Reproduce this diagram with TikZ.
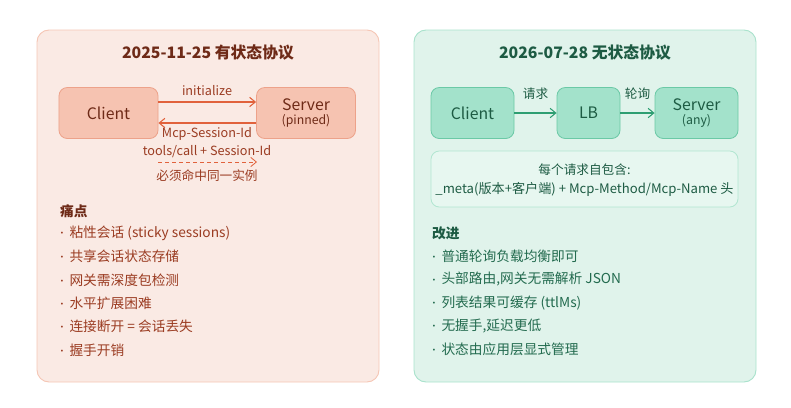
\documentclass[tikz,border=0pt]{standalone}
\usepackage{fontspec}
\setmainfont{Noto Sans CJK SC}
\newfontfamily\dotfont{DejaVu Sans}
\usepackage{xcolor}
\usepackage{tikz}
\usetikzlibrary{arrows.meta,positioning,calc}
\definecolor{oldbg}{HTML}{FAEAE4}
\definecolor{oldframe}{HTML}{F5C6B5}
\definecolor{oldbox}{HTML}{F6C3B1}
\definecolor{oldboxline}{HTML}{EDA28A}
\definecolor{oldarrow}{HTML}{E1623C}
\definecolor{oldtitle}{HTML}{6E2A17}
\definecolor{oldtext}{HTML}{9B3C22}
\definecolor{newbg}{HTML}{E0F3EB}
\definecolor{newframe}{HTML}{A9E2CC}
\definecolor{newbox}{HTML}{A3E2CB}
\definecolor{newboxline}{HTML}{6BC9A6}
\definecolor{newarrow}{HTML}{2E9E72}
\definecolor{newtitle}{HTML}{1D5B43}
\definecolor{newtext}{HTML}{236B4F}
\definecolor{infobg}{HTML}{E7F7F0}
\definecolor{infoline}{HTML}{B2E6D1}
\tikzset{
  panel/.style={rounded corners=0.36cm,line width=0.8pt},
  oldnode/.style={rectangle,rounded corners=0.25cm,draw=oldboxline,fill=oldbox,line width=0.7pt,
    minimum width=2.97cm,minimum height=1.53cm,align=center,text=oldtitle,font=\fontsize{13.5}{15}\selectfont},
  newnode/.style={rectangle,rounded corners=0.25cm,draw=newboxline,fill=newbox,line width=0.7pt,
    minimum height=1.53cm,align=center,text=newtitle,font=\fontsize{13.5}{15}\selectfont},
  oldarc/.style={->,oldarrow,line width=0.9pt},
  newarc/.style={->,newarrow,line width=0.9pt},
  arclab/.style={font=\fontsize{10.8}{12}\selectfont,inner sep=0pt},
  ptitle/.style={font=\bfseries\fontsize{13.5}{15}\selectfont},
  listhead/.style={font=\bfseries\fontsize{11.7}{13}\selectfont,anchor=west,inner sep=0pt},
  listitem/.style={font=\fontsize{11.7}{13}\selectfont,anchor=west,inner sep=0pt}
}
\newcommand{\subtxt}[1]{\\[-3.5pt]{\fontsize{10.5}{12}\selectfont #1}}
\newcommand{\itemdot}{\raisebox{0.25ex}{\dotfont\fontsize{5.5}{6}\selectfont •}\hspace{0.4em}}
\begin{document}
\begin{tikzpicture}[x=0.03cm,y=-0.03cm,>={Straight Barb[length=1.7mm,width=2.8mm]}]
  \useasboundingbox (0,0) rectangle (791,407);
  \draw[panel,draw=oldframe,fill=oldbg] (37,30) rectangle (379,382);
  \draw[panel,draw=newframe,fill=newbg] (414,30) rectangle (756,382);
  % stateful side
  \node[ptitle,text=oldtitle] (oldhead) at (208,52) {2025-11-25 有状态协议};
  \node[oldnode] (cliL) at (108.5,113) {Client};
  \node[oldnode] (srvL) at (306,113) {Server\subtxt{(pinned)}};
  \draw[oldarc] ([yshift=0.33cm]cliL.east) -- ([yshift=0.33cm]srvL.west);
  \draw[oldarc] ([yshift=-0.30cm]srvL.west) -- ([yshift=-0.30cm]cliL.east);
  \node[arclab,text=oldtext] (initlab) at (207,91) {initialize};
  \node[arclab,text=oldtext] (sesslab) at (207,134) {Mcp-Session-Id};
  \node[arclab,text=oldtext] (calllab) at (207,152) {tools/call + Session-Id};
  \coordinate (dashS) at (158,162);
  \coordinate (dashE) at (257,162);
  \draw[oldarc,dashed,line width=0.7pt] (dashS) -- (dashE);
  \node[arclab,text=oldtext] (samelab) at (207,176) {必须命中同一实例};
  \node[listhead,text=oldtitle] (painhead) at (60,211) {痛点};
  \foreach \txt [count=\i] in {粘性会话 (sticky sessions),共享会话状态存储,网关需深度包检测,水平扩展困难,连接断开 = 会话丢失,握手开销}{
    \node[listitem,text=oldtext] (pain\i) at (60,{210+23.3*\i}) {\itemdot\txt};
  }
  % stateless side
  \node[ptitle,text=newtitle] (newhead) at (585,52) {2026-07-28 无状态协议};
  \node[newnode,minimum width=2.49cm] (cliR) at (472.5,113) {Client};
  \node[newnode,minimum width=1.89cm] (lbR) at (588.5,113) {LB};
  \node[newnode,minimum width=2.49cm] (srvR) at (696.5,113) {Server\subtxt{(any)}};
  \draw[newarc] (cliR) -- (lbR) node[arclab,text=newtitle,midway,above=0.4cm] (reqlab) {请求};
  \draw[newarc] (lbR) -- (srvR) node[arclab,text=newtitle,midway,above=0.4cm] (polllab) {轮询};
  \node[rectangle,rounded corners=0.25cm,draw=infoline,fill=infobg,line width=0.7pt,
    minimum width=9.21cm,minimum height=1.68cm] (info) at (584.5,179) {};
  \node[arclab,text=newtitle] (infoA) at (584.5,170) {每个请求自包含:};
  \node[arclab,text=newtitle,font=\fontsize{11.2}{12}\selectfont] (infoB) at (584.5,189) {\_meta(版本+客户端) + Mcp-Method/Mcp-Name 头};
  \node[listhead,text=newtitle] (gainhead) at (432,233) {改进};
  \foreach \txt [count=\i] in {普通轮询负载均衡即可,头部路由{,}网关无需解析 JSON,列表结果可缓存 (ttlMs),无握手{,}延迟更低,状态由应用层显式管理}{
    \node[listitem,text=newtext] (gain\i) at (432,{233+23.2*\i}) {\itemdot\txt};
  }
\end{tikzpicture}
\end{document}
